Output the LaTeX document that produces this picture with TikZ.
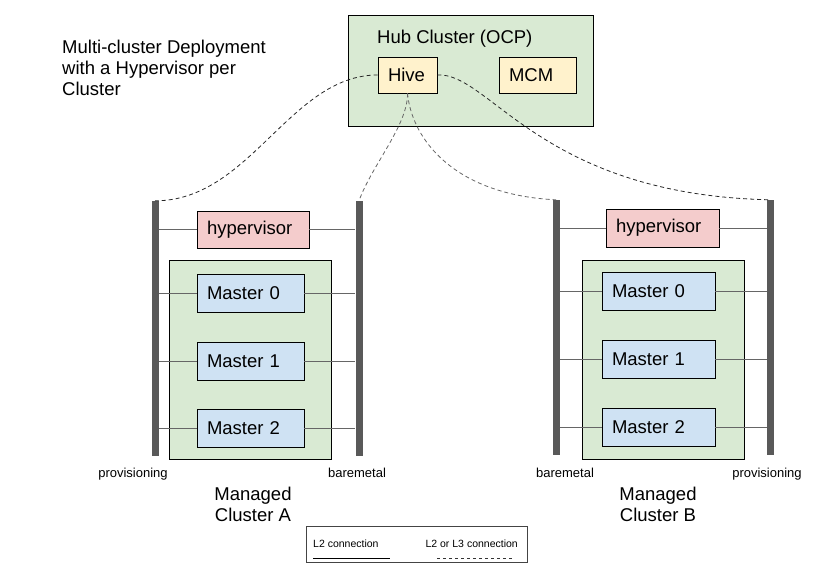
\documentclass[tikz,border=0pt]{standalone}
\usepackage{fontspec}
\setmainfont{Liberation Sans}
\definecolor{greenc}{HTML}{D9EAD3}
\definecolor{yellowc}{HTML}{FFF2CC}
\definecolor{pinkc}{HTML}{F4CCCC}
\definecolor{bluec}{HTML}{CFE2F3}
\definecolor{barc}{HTML}{595959}
\definecolor{wirec}{HTML}{666666}
\definecolor{legendc}{HTML}{444444}
\begin{document}
\begin{tikzpicture}[x=1pt,y=-1pt,
  bigtext/.style={font=\fontsize{18.5}{21}\selectfont},
  smalltext/.style={font=\fontsize{13}{15}\selectfont, inner sep=0pt},
  tinytext/.style={font=\fontsize{10.5}{12}\selectfont, inner sep=0pt},
  box/.style={bigtext, draw=black, line width=0.8pt, inner xsep=10pt, inner ysep=0pt, align=left},
  area/.style={draw=black, line width=0.8pt, fill=greenc, inner sep=0pt},
  netbar/.style={fill=barc, draw=none, minimum width=7pt, minimum height=255pt, inner sep=0pt},
  wire/.style={draw=wirec, line width=0.9pt},
  link/.style={draw=black!85, line width=0.8pt, dash pattern=on 4pt off 3pt},
  linkg/.style={draw=wirec, line width=0.8pt, dash pattern=on 4pt off 3pt}
]
\useasboundingbox (0,0) rectangle (839,570);

% title
\node[bigtext, align=left, anchor=north west, inner sep=0pt] (title) at (62,39.5)
  {Multi-cluster Deployment\\with a Hypervisor per\\Cluster};

% hub cluster
\node[area, minimum width=245pt, minimum height=111pt] (hub) at (470.5,70.5) {};
\node[bigtext, anchor=base west, inner sep=0pt] (hubtitle) at (377,43.3) {Hub Cluster (OCP)};
\node[box, fill=yellowc, text width=39pt, minimum height=36pt] (hive) at (407.5,75) {Hive};
\node[box, fill=yellowc, text width=57pt, minimum height=36pt] (mcm) at (537.5,75) {MCM};

% cluster A
\node[area, minimum width=162pt, minimum height=199pt] (greenA) at (250,359.5) {};
\node[netbar] (provA) at (155,328.5) {};
\node[netbar] (bmA) at (359,328.5) {};
\node[box, fill=pinkc, text width=92pt, minimum height=37pt] (hypA) at (253,229.5) {hypervisor};
\node[box, fill=bluec, text width=87pt, minimum height=38pt] (m0A) at (250.5,293) {Master 0};
\node[box, fill=bluec, text width=87pt, minimum height=38pt] (m1A) at (250.5,361) {Master 1};
\node[box, fill=bluec, text width=87pt, minimum height=38pt] (m2A) at (250.5,428.5) {Master 2};
\foreach \n in {hypA,m0A,m1A,m2A}{
  \draw[wire] (provA.east |- \n.west) -- (\n.west);
  \draw[wire] (\n.east) -- (bmA.west |- \n.east);
}
\node[smalltext, anchor=base] (lprovA) at (133,477) {provisioning};
\node[smalltext, anchor=base] (lbmA) at (357,477) {baremetal};
\node[bigtext, align=center, inner sep=0pt] (manA) at (253,504.5) {Managed\\Cluster A};

% cluster B
\node[area, minimum width=162pt, minimum height=199pt] (greenB) at (663,359.5) {};
\node[netbar] (bmB) at (556,327.5) {};
\node[netbar] (provB) at (770.5,327.5) {};
\node[box, fill=pinkc, text width=93pt, minimum height=38pt] (hypB) at (662.5,228) {hypervisor};
\node[box, fill=bluec, text width=93pt, minimum height=38pt] (m0B) at (658.5,291) {Master 0};
\node[box, fill=bluec, text width=93pt, minimum height=38pt] (m1B) at (658.5,359.5) {Master 1};
\node[box, fill=bluec, text width=93pt, minimum height=38pt] (m2B) at (658.5,427.5) {Master 2};
\foreach \n in {hypB,m0B,m1B,m2B}{
  \draw[wire] (bmB.east |- \n.west) -- (\n.west);
  \draw[wire] (\n.east) -- (provB.west |- \n.east);
}
\node[smalltext, anchor=base] (lbmB) at (565,477) {baremetal};
\node[smalltext, anchor=base] (lprovB) at (767,477) {provisioning};
\node[bigtext, align=center, inner sep=0pt] (manB) at (658,504.5) {Managed\\Cluster B};

% dashed links from Hive
\draw[link] (hive.west) .. controls (290,75) and (250,201) .. (provA.north);
\draw[linkg] (hive.south) .. controls (408,125) and (372,165) .. (bmA.north);
\draw[linkg] (hive.south) .. controls (412,140) and (455,195) .. (bmB.north);
\draw[link] (hive.east) .. controls (490,72) and (540,195) .. (provB.north);

% legend
\node[draw=legendc, line width=0.8pt, minimum width=221pt, minimum height=36pt, inner sep=0pt] (legend) at (416.5,544) {};
\node[tinytext, anchor=base west] (lgl2) at (313,547) {L2 connection};
\node[tinytext, anchor=base east] (lgl3) at (518,547) {L2 or L3 connection};
\coordinate (s1) at (313,558.5);
\coordinate (s2) at (390,558.5);
\coordinate (d1) at (437,558.5);
\coordinate (d2) at (512,558.5);
\draw[line width=1.1pt, black] (s1) -- (s2);
\draw[line width=0.8pt, draw=black!80, dash pattern=on 3pt off 3pt] (d1) -- (d2);
\end{tikzpicture}
\end{document}
